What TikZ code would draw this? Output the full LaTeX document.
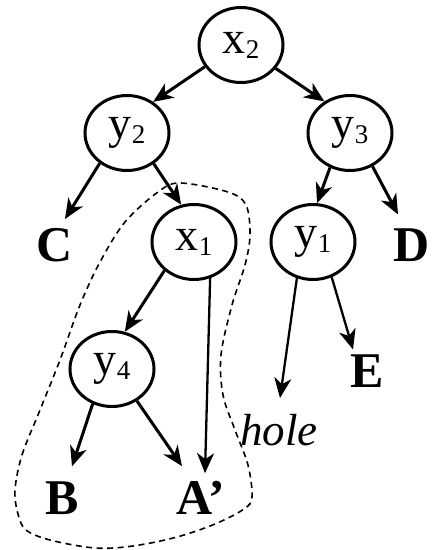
\documentclass[tikz,border=0pt]{standalone}
\usepackage{fontspec}
\setmainfont{Liberation Serif}
\usetikzlibrary{arrows.meta,shapes.geometric,calc}
\newcommand\nlab[2]{{\fontsize{46}{46}\selectfont #1}\raisebox{-5pt}{\fontsize{27}{27}\selectfont #2}}
\begin{document}
\begin{tikzpicture}[x=1pt,y=-1pt,
  vnode/.style={ellipse,draw,line width=3pt,minimum width=84pt,minimum height=75pt,inner sep=0pt},
  leaf/.style={inner sep=0pt,font=\fontsize{50}{50}\selectfont\bfseries},
  arr/.style={line width=3pt,-{Stealth[length=20pt,width=17pt,inset=6pt]}},
  thinarr/.style={line width=2.3pt,-{Stealth[length=20pt,width=17pt,inset=6pt]}},
  holeline/.style={line width=1.6pt,dash pattern=on 6pt off 4.5pt}]
\useasboundingbox (0,0) rectangle (432,550);
\node[vnode] (x2) at (241,45) {\nlab{x}{2}};
\node[vnode] (y2) at (127,133) {\nlab{y}{2}};
\node[vnode] (y3) at (350,133) {\nlab{y}{3}};
\node[vnode] (x1) at (194,242) {\nlab{x}{1}};
\node[vnode] (y1) at (313,242) {\nlab{y}{1}};
\node[vnode] (y4) at (112,369) {\nlab{y}{4}};
\node[leaf] (C) at (55,245) {C};
\node[leaf] (D) at (412,245) {D};
\node[leaf] (E) at (367,371) {E};
\node[leaf] (B) at (62,498) {B};
\node[leaf] (A) at (201,498) {A’};
\node[inner sep=0pt,font=\fontsize{45}{45}\selectfont\itshape] (hole) at (279,430) {hole};
\coordinate (hend) at (280,398);

\draw[arr] (x2.211) -- (y2.50);
\draw[arr] (x2.326) -- (y3.129);
\draw[arr] (y2.228) -- ($(C.north)+(10,-9)$);
\draw[arr] (y2.311) -- (x1.109);
\draw[arr] (y3.240) -- (y1.84);
\draw[arr] (y3.304) -- ($(D.north)+(-14,-14)$);
\draw[arr] (x1.224) -- (y4.71);
\draw[thinarr] (x1.294) -- ($(A.north)+(4,-8)$);
\draw[thinarr] (y1.246) -- (hend);
\draw[thinarr] (y1.298) -- ($(E.north)+(-14,-5)$);
\draw[arr] (y4.241) -- ($(B.north)+(10,-15)$);
\draw[arr] (y4.308) -- ($(A.north)+(-19,-15)$);

\draw[holeline] plot[smooth cycle,tension=0.55] coordinates {
(15,490) (22,455) (40,410) (60,360) (80,305) (100,262) (125,222) (158,192) (180,183)
(228,192) (246,205) (250,235) (245,265) (232,305) (221,355) (223,395) (235,430)
(248,465) (252,497) (244,509) (215,524) (177,537) (133,546) (95,548) (50,540)
(26,530) (18,514)};
\end{tikzpicture}
\end{document}
